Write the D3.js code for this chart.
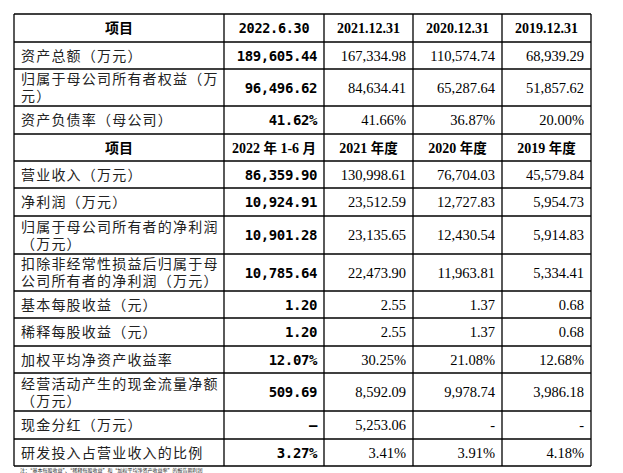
<!DOCTYPE html><html><head><meta charset="utf-8"><script src="https://cdn.jsdelivr.net/npm/d3@7"></script>
<style>body{margin:0;background:#fff}</style></head><body><svg id="c" width="623" height="473"></svg>
<script>
const header1 = ["项目","2022.6.30","2021.12.31","2020.12.31","2019.12.31"];
const header2 = ["项目","2022年1-6月","2021年度","2020年度","2019年度"];
const labels1 = [["资产总额（万元）"],["归属于母公司所有者权益（万","元）"],["资产负债率（母公司）"]];
const values1 = [["189,605.44","167,334.98","110,574.74","68,939.29"],
 ["96,496.62","84,634.41","65,287.64","51,857.62"],
 ["41.62%","41.66%","36.87%","20.00%"]];
const labels2 = [["营业收入（万元）"],["净利润（万元）"],["归属于母公司所有者的净利润","（万元）"],
 ["扣除非经常性损益后归属于母","公司所有者的净利润（万元）"],["基本每股收益（元）"],["稀释每股收益（元）"],
 ["加权平均净资产收益率"],["经营活动产生的现金流量净额","（万元）"],["现金分红（万元）"],["研发投入占营业收入的比例"]];
const values2 = [["86,359.90","130,998.61","76,704.03","45,579.84"],
 ["10,924.91","23,512.59","12,727.83","5,954.73"],
 ["10,901.28","23,135.65","12,430.54","5,914.83"],
 ["10,785.64","22,473.90","11,963.81","5,334.41"],
 ["1.20","2.55","1.37","0.68"],["1.20","2.55","1.37","0.68"],
 ["12.07%","30.25%","21.08%","12.68%"],
 ["509.69","8,592.09","9,978.74","3,986.18"],
 ["-","5,253.06","-","-"],
 ["3.27%","3.41%","3.91%","4.18%"]];
const rowEdges = [14,42,69,106,134,161,188,216,254,291,318,346,373,411,439,466];
const colEdges = [14,224,324,413,502,591];

const svg = d3.select("#c");
const rows = [{h:header1,hdr:true}];
labels1.forEach((l,i)=>rows.push({l,v:values1[i]}));
rows.push({h:header2,hdr:true});
labels2.forEach((l,i)=>rows.push({l,v:values2[i]}));
const cjk = "'Noto Sans CJK SC',sans-serif", serif="'Liberation Serif','Times New Roman',serif";
const mono = "'DejaVu Sans Mono',monospace";
rows.forEach((r,i)=>{
  const y0=rowEdges[i], y1=rowEdges[i+1], cy=(y0+y1)/2;
  if(r.hdr){
    r.h.forEach((t,j)=>{
      const cx=(colEdges[j]+colEdges[j+1])/2;
      const m=t.match(/^(\d+)年(.*)$/);
      const tx=svg.append("text").attr("x",cx).attr("y",cy+5).attr("text-anchor","middle")
        .attr("font-weight","bold").attr("font-size",14).attr("fill","#000");
      if(j===0){tx.attr("font-family",cjk).text(t);}
      else if(j===1&&i===0){tx.attr("font-family",mono).attr("font-size",13.5).attr("letter-spacing",-0.3).text(t);}
      else if(m){
        tx.append("tspan").attr("font-family",serif).text(m[1]+" ");
        tx.append("tspan").attr("font-family",cjk).attr("font-size",13.5).text("年");
        if(m[2]==="度") tx.append("tspan").attr("font-family",cjk).attr("font-size",13.5).text("度");
        else { tx.append("tspan").attr("font-family",serif).text(" 1-6 ");
          tx.append("tspan").attr("font-family",cjk).attr("font-size",13.5).text("月"); }
      }
      else tx.attr("font-family",serif).text(t);
    });
  } else {
    const n=r.l.length;
    r.l.forEach((t,k)=>svg.append("text").attr("x",colEdges[0]+7).attr("y",cy+5+(k-(n-1)/2)*17)
      .attr("font-family",cjk).attr("font-size",14).attr("fill","#222").attr("letter-spacing",1.2).text(t));
    r.v.forEach((t,j)=>{
      const tx=svg.append("text").attr("y",cy+5).attr("font-size",14.5).attr("fill","#000")
        .attr("x",colEdges[j+2]-7).attr("text-anchor","end");
      if(j===0)tx.attr("font-family",mono).attr("font-weight","bold").attr("font-size",14).attr("letter-spacing",-0.4);
      else tx.attr("font-family",serif);
      tx.text(t==="-"&&j===0?"–":t);
    });
  }
});
svg.selectAll("line.h").data(rowEdges).join("line").attr("x1",colEdges[0]).attr("x2",colEdges[5])
  .attr("y1",d=>d).attr("y2",d=>d).attr("stroke","#000").attr("stroke-width",1.3);
svg.selectAll("line.v").data(colEdges).join("line").attr("y1",rowEdges[0]).attr("y2",rowEdges[15])
  .attr("x1",d=>d).attr("x2",d=>d).attr("stroke","#000").attr("stroke-width",1.3);
svg.append("text").attr("x",20).attr("y",472).attr("font-family",cjk).attr("font-size",5).attr("fill","#222")
  .text("注：“基本每股收益”、“稀释每股收益”和“加权平均净资产收益率”的报告期利润");
</script></body></html>
